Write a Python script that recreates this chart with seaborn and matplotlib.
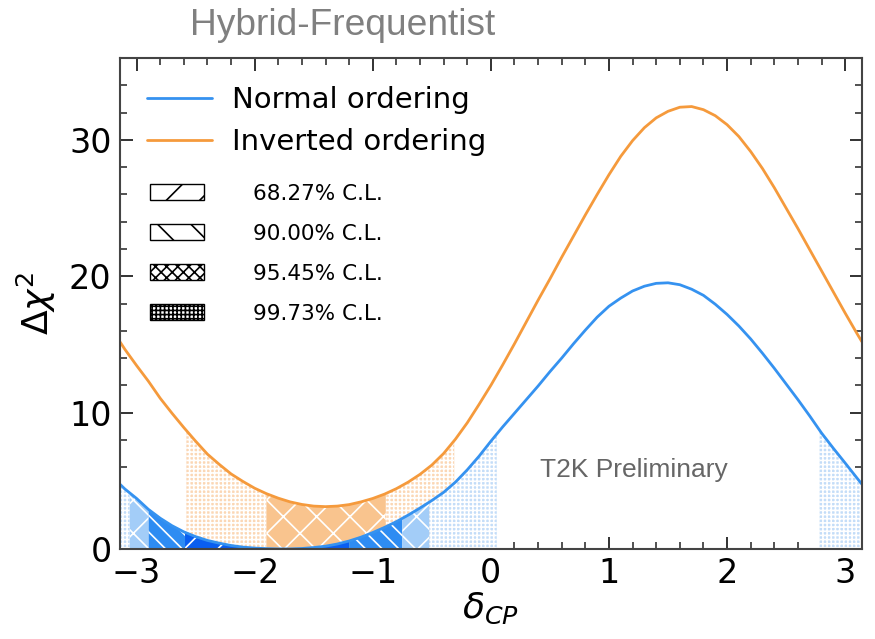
import numpy as np
import pandas as pd
import matplotlib
matplotlib.use('Agg')
import matplotlib.pyplot as plt
import seaborn as sns
from matplotlib.patches import Patch
from matplotlib.lines import Line2D
from matplotlib.ticker import MultipleLocator

# delta_CP sample points and Delta chi^2
dcp = [-3.1416, -3.1, -3.0, -2.9, -2.8, -2.7, -2.6, -2.5, -2.4, -2.3, -2.2, -2.1,
       -2.0, -1.9, -1.8, -1.7, -1.6, -1.5, -1.4, -1.3, -1.2, -1.1, -1.0, -0.9,
       -0.8, -0.7, -0.6, -0.5, -0.4, -0.3, -0.2, -0.1, 0.0, 0.1, 0.2, 0.3,
       0.4, 0.5, 0.6, 0.7, 0.8, 0.9, 1.0, 1.1, 1.2, 1.3, 1.4, 1.5,
       1.6, 1.7, 1.8, 1.9, 2.0, 2.1, 2.2, 2.3, 2.4, 2.5, 2.6, 2.7,
       2.8, 2.9, 3.0, 3.1, 3.1416]
chi2_no = [4.75, 4.4, 3.7, 2.9, 2.25, 1.7, 1.25, 0.9, 0.62, 0.42, 0.25, 0.13,
           0.06, 0.02, 0.0, 0.0, 0.03, 0.1, 0.2, 0.36, 0.58, 0.86, 1.2, 1.58,
           2.0, 2.48, 3.0, 3.55, 4.15, 4.9, 5.8, 6.8, 7.9, 8.95, 9.95, 10.95,
           11.95, 13.0, 14.0, 15.05, 16.05, 17.0, 17.8, 18.4, 18.92, 19.27, 19.48, 19.52,
           19.38, 19.05, 18.6, 17.95, 17.2, 16.35, 15.4, 14.35, 13.25, 12.1, 10.95, 9.75,
           8.5, 7.38, 6.3, 5.2, 4.75]
chi2_io = [15.2, 14.65, 13.45, 12.3, 11.05, 9.95, 8.9, 7.9, 6.95, 6.2, 5.5, 4.95,
           4.45, 4.05, 3.72, 3.45, 3.26, 3.14, 3.1, 3.14, 3.25, 3.45, 3.7, 4.02,
           4.42, 4.9, 5.47, 6.15, 7.0, 8.05, 9.25, 10.6, 12.0, 13.5, 15.05, 16.65,
           18.25, 19.8, 21.4, 22.95, 24.5, 26.0, 27.45, 28.8, 29.95, 30.9, 31.62, 32.1,
           32.4, 32.45, 32.22, 31.78, 31.12, 30.25, 29.15, 27.9, 26.5, 25.0, 23.5, 21.95,
           20.4, 18.85, 17.3, 15.8, 15.2]

# confidence level intervals in delta_CP
cl_names = ['68.27% C.L.', '90.00% C.L.', '95.45% C.L.', '99.73% C.L.']
no_intervals = {
    '68.27% C.L.': [(-2.59, -1.20)],
    '90.00% C.L.': [(-2.90, -2.59), (-1.20, -0.75)],
    '95.45% C.L.': [(-3.06, -2.90), (-0.75, -0.52)],
    '99.73% C.L.': [(-3.1416, -3.06), (-0.52, 0.05), (2.78, 3.1416)],
}
io_intervals = {
    '95.45% C.L.': [(-1.90, -0.89)],
    '99.73% C.L.': [(-2.58, -1.90), (-0.89, -0.31)],
}

hatches = {'68.27% C.L.': '/', '90.00% C.L.': '\\\\', '95.45% C.L.': 'x', '99.73% C.L.': '++++'}
legend_hatches = ['/', '\\', 'xxx', '++++']
no_colors = {'68.27% C.L.': '#0a5ef0', '90.00% C.L.': '#2e8cf2',
             '95.45% C.L.': '#a3cdf8', '99.73% C.L.': '#c4ddf8'}
io_colors = {'95.45% C.L.': '#f9c48e', '99.73% C.L.': '#fbd7b5'}

df = pd.DataFrame({'dcp': dcp * 2,
                   'chi2': chi2_no + chi2_io,
                   'ordering': ['Normal ordering'] * len(dcp) + ['Inverted ordering'] * len(dcp)})

sns.set_style('ticks')
plt.rcParams['hatch.linewidth'] = 1.2
plt.rcParams['text.color'] = 'black'
plt.rcParams['axes.labelcolor'] = 'black'

fig = plt.figure(figsize=(8.75, 6.39), dpi=100)
ax = fig.add_axes([0.137, 0.141, 0.848, 0.768])

line_colors = {'Normal ordering': '#3592f0', 'Inverted ordering': '#f59a3c'}


def fill_region(xs, ys, lo, hi, color, hatch):
    xf = np.linspace(lo, hi, 60)
    yf = np.interp(xf, xs, ys)
    ax.fill_between(xf, 0, yf, facecolor=color, edgecolor='white', hatch=hatch, linewidth=0)


for name in ['99.73% C.L.', '95.45% C.L.']:
    for lo, hi in io_intervals[name]:
        fill_region(dcp, chi2_io, lo, hi, io_colors[name], hatches[name])
for name in cl_names:
    for lo, hi in no_intervals[name]:
        fill_region(dcp, chi2_no, lo, hi, no_colors[name], hatches[name])

sns.lineplot(data=df, x='dcp', y='chi2', hue='ordering', palette=line_colors,
             linewidth=2.0, ax=ax, legend=False, sort=False, estimator=None)

ax.set_xlim(-np.pi, np.pi)
ax.set_ylim(0, 36)
ax.xaxis.set_major_locator(MultipleLocator(1))
ax.xaxis.set_minor_locator(MultipleLocator(0.2))
ax.yaxis.set_major_locator(MultipleLocator(10))
ax.yaxis.set_minor_locator(MultipleLocator(2))
ax.tick_params(which='both', direction='in', top=True, right=True, colors='#222222',
               labelcolor='black')
ax.tick_params(which='major', length=9, width=1.3, labelsize=24, pad=6)
ax.tick_params(which='minor', length=5, width=1.1)
for sp in ax.spines.values():
    sp.set_color('#444444')
    sp.set_linewidth(1.5)

ax.set_xlabel(r'$\delta_{CP}$', fontsize=26, labelpad=0)
ax.set_ylabel(r'$\Delta\chi^2$', fontsize=26, labelpad=8)

line_handles = [Line2D([], [], color=line_colors[k], lw=2.0) for k in line_colors]
leg1 = ax.legend(line_handles, list(line_colors), loc='upper left', bbox_to_anchor=(0.0095, 0.984),
                 frameon=False, fontsize=21, handlelength=2.2, handletextpad=0.7,
                 labelspacing=0.48, borderaxespad=0.3)
ax.add_artist(leg1)
patch_handles = [Patch(facecolor='white', edgecolor='black', hatch=h, lw=1.0) for h in legend_hatches]
ax.legend(patch_handles, cl_names, loc='upper left', bbox_to_anchor=(0.02, 0.775),
          frameon=False, fontsize=15.5, handlelength=2.5, handleheight=0.75,
          handletextpad=2.3, labelspacing=0.93, borderaxespad=0.3)

ax.text(0.566, 0.147, 'T2K Preliminary', transform=ax.transAxes, fontsize=19,
        color='#666666', family='Liberation Sans')
fig.text(190 / 875, 1 - 35 / 639, 'Hybrid-Frequentist', fontsize=26.7, color='#808080',
         family='Liberation Sans')

fig.savefig('out.png', dpi=100)
